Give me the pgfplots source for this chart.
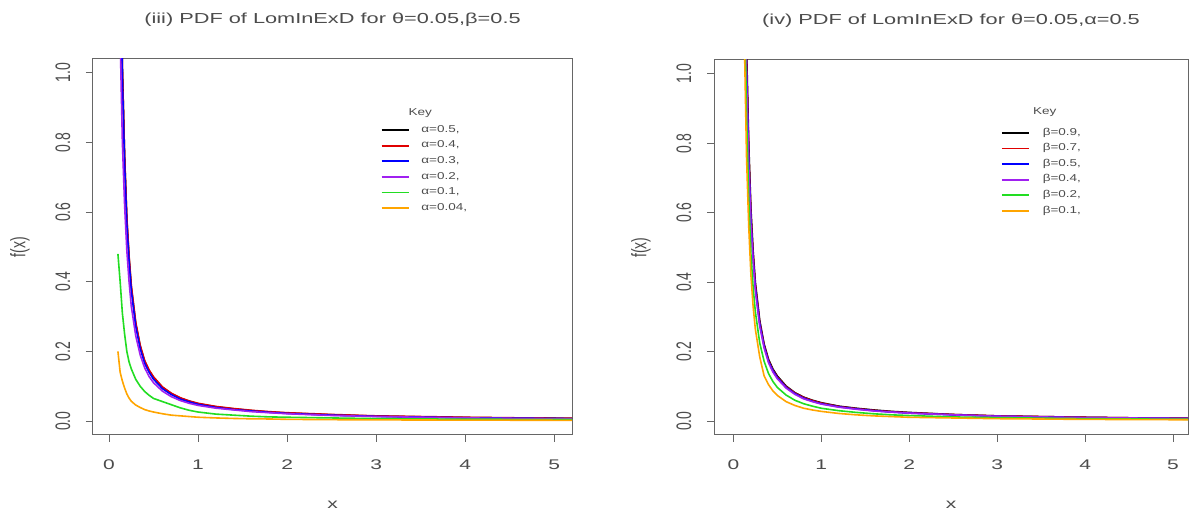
\documentclass[border=0pt]{standalone}
\usepackage{pgfplots}
\pgfplotsset{compat=1.18}
\usepackage{pgfplotstable}
\usepackage{fontspec}
\setmainfont{Liberation Sans}
\usepackage{graphicx}
\definecolor{rpurple}{HTML}{A020F0}
\definecolor{rgreen}{HTML}{22DD22}
\definecolor{rorange}{HTML}{FFA500}
\definecolor{rred}{HTML}{E00000}
\definecolor{rblue}{HTML}{0000FF}
\definecolor{txt}{gray}{0.3}
\definecolor{frame}{gray}{0.4}
\newcommand\sx[1]{\scalebox{1.5}[1]{#1}}
\newcommand\slg[1]{\scalebox{1.35}[1]{#1}}
\newcommand\sy[1]{\scalebox{1}[1.5]{#1}}

% Left panel: theta=0.05, beta=0.5, varying alpha
\pgfplotstableread{
x      a05    a04    a03    a02    a01    a004
0.1    2.4    2.3    2.1    1.6    0.48   0.20
0.125  1.45   1.42   1.35   1.1    0.40   0.14
0.15   1.02   1.01   0.98   0.80   0.31   0.115
0.175  0.76   0.765  0.74   0.62   0.25   0.095
0.2    0.58   0.585  0.565  0.49   0.20   0.078
0.225  0.47   0.475  0.46   0.40   0.17   0.066
0.25   0.385  0.39   0.375  0.33   0.15   0.057
0.3    0.28   0.284  0.272  0.245  0.12   0.046
0.35   0.215  0.218  0.208  0.19   0.10   0.039
0.4    0.172  0.174  0.166  0.153  0.085  0.033
0.45   0.145  0.147  0.14   0.128  0.074  0.029
0.5    0.125  0.127  0.12   0.11   0.065  0.026
0.6    0.097  0.098  0.093  0.086  0.056  0.021
0.7    0.079  0.080  0.076  0.070  0.047  0.017
0.8    0.066  0.067  0.063  0.059  0.038  0.015
0.9    0.057  0.058  0.055  0.051  0.031  0.013
1.0    0.050  0.051  0.048  0.045  0.026  0.011
1.2    0.041  0.042  0.039  0.037  0.020  0.009
1.4    0.035  0.036  0.033  0.032  0.017  0.0075
1.6    0.030  0.031  0.029  0.027  0.014  0.0065
1.8    0.026  0.027  0.025  0.024  0.012  0.006
2.0    0.023  0.024  0.022  0.021  0.011  0.005
2.5    0.018  0.019  0.017  0.016  0.009  0.004
3.0    0.014  0.015  0.0135 0.013  0.007  0.0035
3.5    0.012  0.013  0.0115 0.011  0.006  0.003
4.0    0.010  0.011  0.0095 0.009  0.0055 0.0028
4.5    0.009  0.0095 0.0085 0.008  0.005  0.0025
5.0    0.008  0.0085 0.0075 0.007  0.0045 0.0022
5.2    0.0075 0.008  0.007  0.0065 0.0045 0.002
}\lefttab

% Right panel: theta=0.05, alpha=0.5, varying beta
\pgfplotstableread{
x      b09    b07    b05    b04    b02    b01
0.1    2.6    2.5    2.4    2.3    2.0    1.8
0.125  1.55   1.5    1.45   1.4    1.25   1.1
0.15   1.08   1.05   1.02   0.99   0.88   0.76
0.175  0.80   0.78   0.76   0.74   0.64   0.56
0.2    0.61   0.595  0.58   0.565  0.48   0.42
0.225  0.49   0.48   0.47   0.46   0.385  0.33
0.25   0.40   0.393  0.385  0.375  0.315  0.265
0.3    0.29   0.285  0.28   0.273  0.225  0.185
0.35   0.222  0.218  0.215  0.21   0.172  0.13
0.4    0.178  0.175  0.172  0.168  0.137  0.105
0.45   0.150  0.147  0.145  0.141  0.114  0.087
0.5    0.130  0.127  0.125  0.122  0.097  0.074
0.6    0.101  0.099  0.097  0.095  0.075  0.056
0.7    0.082  0.081  0.079  0.077  0.060  0.045
0.8    0.069  0.068  0.066  0.064  0.050  0.037
0.9    0.060  0.059  0.057  0.056  0.043  0.032
1.0    0.053  0.052  0.050  0.049  0.037  0.028
1.2    0.043  0.042  0.041  0.040  0.030  0.022
1.4    0.037  0.036  0.035  0.034  0.025  0.018
1.6    0.032  0.031  0.030  0.029  0.021  0.015
1.8    0.028  0.027  0.026  0.026  0.018  0.013
2.0    0.025  0.024  0.023  0.023  0.016  0.011
2.5    0.019  0.019  0.018  0.018  0.012  0.009
3.0    0.015  0.015  0.014  0.014  0.010  0.007
3.5    0.013  0.013  0.012  0.012  0.0085 0.006
4.0    0.011  0.011  0.010  0.010  0.007  0.005
4.5    0.0095 0.0095 0.009  0.009  0.0062 0.0045
5.0    0.0085 0.0085 0.008  0.008  0.0056 0.004
5.2    0.008  0.008  0.0075 0.0075 0.0054 0.0038
}\righttab

\pgfplotsset{
  rstyle/.style={
    scale only axis,
    clip bounding box=upper bound,
    ymin=-0.04, ymax=1.04,
    axis line style={frame, line width=1pt},
    xtick={0,1,2,3,4,5},
    xticklabels={\sx{0},\sx{1},\sx{2},\sx{3},\sx{4},\sx{5}},
    ytick={0,0.2,0.4,0.6,0.8,1},
    yticklabels={\sy{0.0},\sy{0.2},\sy{0.4},\sy{0.6},\sy{0.8},\sy{1.0}},
    tick align=outside, major tick length=7pt,
    tick style={frame, line width=1pt},
    xtick pos=bottom, ytick pos=left,
    ticklabel style={font=\fontsize{14}{16}\selectfont, text=txt, inner sep=0pt},
    xticklabel style={anchor=north},
    xticklabel shift=18pt,
    yticklabel style={rotate=90, anchor=south},
    yticklabel shift=15.5pt,
    label style={font=\fontsize{14}{16}\selectfont, text=txt},
    xlabel={\sx{x}},
    xlabel style={at={(axis description cs:0.5,-0.186)}, anchor=center},
    ylabel={\sy{f(x)}},
    title style={font=\fontsize{14.5}{16}\selectfont, text=txt, at={(axis description cs:0.5,1.088)}, anchor=center},
    every axis plot/.append style={line width=1.6pt},
    legend image code/.code={\draw[##1, line width=1.8pt] (0pt,0pt) -- (27pt,0pt);},
    legend style={draw=none, fill=none, font=\fontsize{10}{11}\selectfont, text=txt,
      inner sep=0pt, row sep=0pt, anchor=north west,
      nodes={inner sep=0pt, text height=10pt, text depth=5.6pt}},
    legend cell align=left,
  }
}

\begin{document}
\begin{tikzpicture}
\fill[white] (0pt,0pt) rectangle (1192pt,513pt);

\begin{axis}[rstyle, at={(93pt,78pt)}, anchor=south west, width=479pt, height=376pt,
  xmin=-0.18, xmax=5.2,
  title={\sx{(iii) PDF of LomInExD for θ=0.05,β=0.5}},
  ylabel style={at={(axis description cs:-0.1524,0.5)}, anchor=center},
  legend style={at={(axis description cs:0.600,0.832)}, /tikz/every odd column/.append style={column sep=12pt}},
]
\addplot[black]   table[x=x,y=a05]  {\lefttab};
\addplot[rred]    table[x=x,y=a04]  {\lefttab};
\addplot[rblue]   table[x=x,y=a03]  {\lefttab};
\addplot[rpurple] table[x=x,y=a02]  {\lefttab};
\addplot[rgreen]  table[x=x,y=a01]  {\lefttab};
\addplot[rorange] table[x=x,y=a004] {\lefttab};
\legend{\slg{α=0.5,},\slg{α=0.4,},\slg{α=0.3,},\slg{α=0.2,},\slg{α=0.1,},\slg{α=0.04,}}
\node[font=\fontsize{10}{11}\selectfont, text=txt] at (rel axis cs:0.683,0.856) {\slg{Key}};
\end{axis}

\begin{axis}[rstyle, at={(714pt,78pt)}, anchor=south west, width=474pt, height=375pt,
  xmin=-0.22, xmax=5.17,
  title={\sx{(iv) PDF of LomInExD for θ=0.05,α=0.5}},
  ylabel style={at={(axis description cs:-0.154,0.5)}, anchor=center},
  legend style={at={(axis description cs:0.605,0.827)}, /tikz/every odd column/.append style={column sep=13pt}},
]
\addplot[black]   table[x=x,y=b09] {\righttab};
\addplot[rred]    table[x=x,y=b07] {\righttab};
\addplot[rblue]   table[x=x,y=b05] {\righttab};
\addplot[rpurple] table[x=x,y=b04] {\righttab};
\addplot[rgreen]  table[x=x,y=b02] {\righttab};
\addplot[rorange] table[x=x,y=b01] {\righttab};
\legend{\slg{β=0.9,},\slg{β=0.7,},\slg{β=0.5,},\slg{β=0.4,},\slg{β=0.2,},\slg{β=0.1,}}
\node[font=\fontsize{10}{11}\selectfont, text=txt] at (rel axis cs:0.698,0.861) {\slg{Key}};
\end{axis}

\pgfresetboundingbox
\path[use as bounding box] (0pt,0pt) rectangle (1192pt,513pt);
\end{tikzpicture}
\end{document}
